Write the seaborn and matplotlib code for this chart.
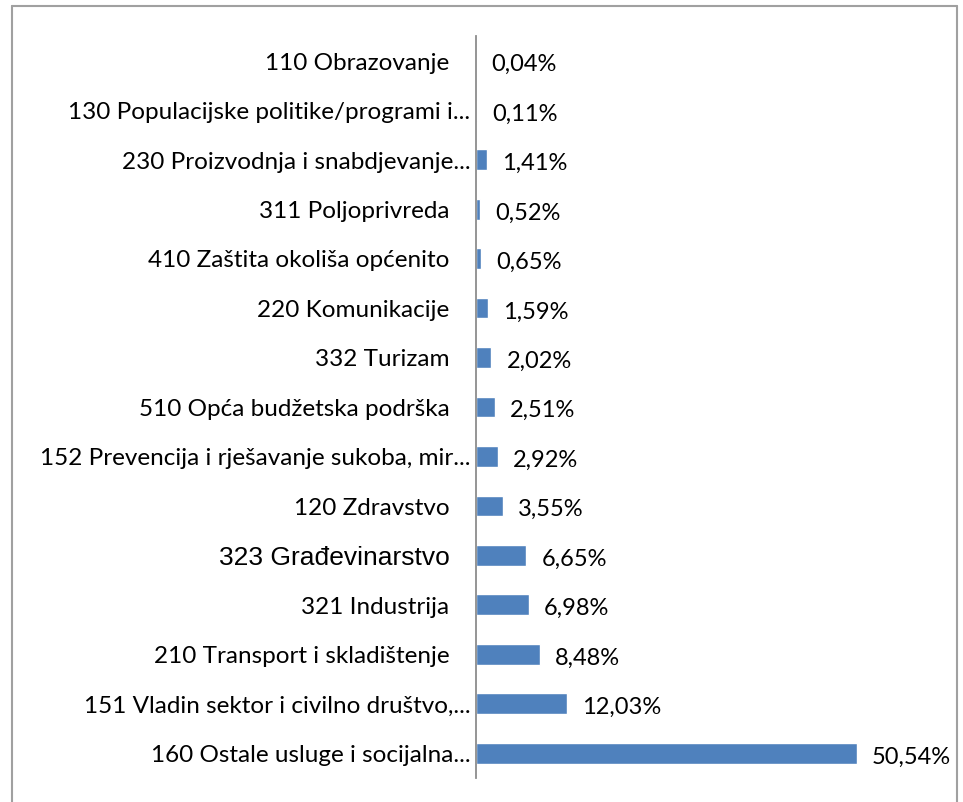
import matplotlib
matplotlib.use("Agg")
import matplotlib.pyplot as plt
import pandas as pd
import seaborn as sns
from matplotlib.lines import Line2D

# Sektori (odozgo prema dolje) i udio u %
sektori = [
    "110 Obrazovanje",
    "130 Populacijske politike/programi i...",
    "230 Proizvodnja i snabdjevanje...",
    "311 Poljoprivreda",
    "410 Zaštita okoliša općenito",
    "220 Komunikacije",
    "332 Turizam",
    "510 Opća budžetska podrška",
    "152 Prevencija i rješavanje sukoba, mir...",
    "120 Zdravstvo",
    "323 Građevinarstvo",
    "321 Industrija",
    "210 Transport i skladištenje",
    "151 Vladin sektor i civilno društvo,...",
    "160 Ostale usluge i socijalna...",
]
udio = [0.04, 0.11, 1.41, 0.52, 0.65, 1.59, 2.02, 2.51, 2.92, 3.55,
        6.65, 6.98, 8.48, 12.03, 50.54]

df = pd.DataFrame({"Sektor": sektori, "Udio": udio})

sns.set_theme(style="white")
plt.rcParams["font.family"] = ["Lato", "DejaVu Sans"]

fig = plt.figure(figsize=(9.63, 8.03), dpi=100)
ax = fig.add_axes([476 / 963, 1 - 779 / 803, 452 / 963, 742 / 803])

sns.barplot(data=df, y="Sektor", x="Udio", orient="h", color="#4F81BD",
            width=0.42, ax=ax, saturation=1)

ax.set_xlim(0, 60)
ax.set_ylim(len(sektori) - 0.5, -0.5)
ax.set_xlabel("")
ax.set_ylabel("")
ax.set_xticks([])
ax.set_yticklabels([])
ax.tick_params(axis="y", length=0)
for s in ["top", "right", "bottom"]:
    ax.spines[s].set_visible(False)
ax.spines["left"].set_color("#8c8c8c")
ax.spines["left"].set_linewidth(1.3)

# nazivi kategorija (skraćeni nazivi "..." vire desno kao u Excelu)
for i, naziv in enumerate(sektori):
    dx = -4 if naziv.endswith("...") else -19
    if naziv.startswith("323"):
        ax.annotate(naziv, (0, i), xytext=(dx, -1), textcoords="offset points",
                    ha="right", va="center", fontsize=19,
                    fontfamily="Liberation Sans", color="black")
    else:
        ax.annotate(naziv, (0, i), xytext=(dx, -1), textcoords="offset points",
                    ha="right", va="center", fontsize=17.5, color="black")

for i, v in enumerate(udio):
    ax.annotate(f"{v:.2f}%".replace(".", ","), (v, i), xytext=(11, -2),
                textcoords="offset points", va="center", ha="left",
                fontsize=17, color="black")

# okvir oko grafikona
kw = dict(color="#a0a0a0", linewidth=1.5, transform=fig.transFigure)
fig.add_artist(Line2D([12 / 963, 12 / 963], [0, 1 - 7 / 803], **kw))
fig.add_artist(Line2D([12 / 963, 957 / 963], [1 - 7 / 803, 1 - 7 / 803], **kw))
fig.add_artist(Line2D([957 / 963, 957 / 963], [0, 1 - 7 / 803], **kw))

fig.savefig("out.png", dpi=100)
